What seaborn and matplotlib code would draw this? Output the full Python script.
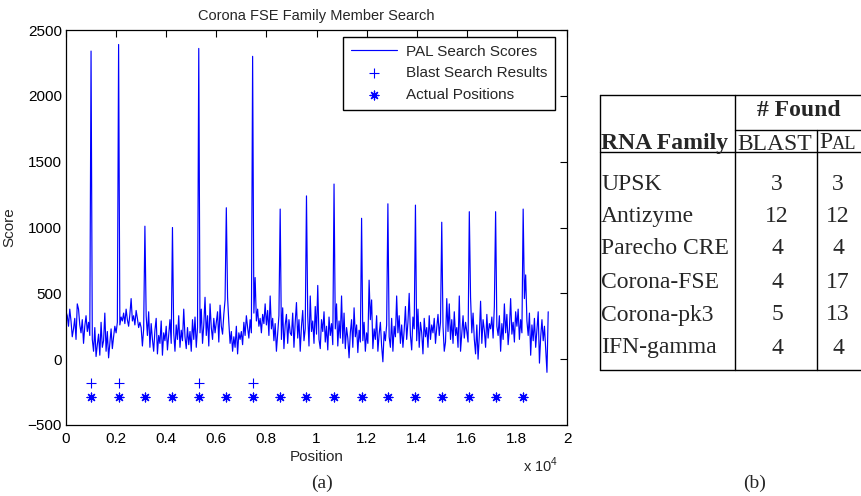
import numpy as np
import pandas as pd
import matplotlib
matplotlib.use('Agg')
from matplotlib import pyplot as plt
from matplotlib.ticker import FuncFormatter
import seaborn as sns

# PAL search scores, one value every 50 positions (0 .. 19250)
scores = [
    360, 330, 250, 380, 290, 170, 230, 310, 150, 420, 380, 260, 200, 300, 120, 250, 330, 210, 280, 180,
    2340, 150, 60, 240, 20, 110, 190, 30, 280, 90, 140, 350, 60, 210, 10, 120, 230, 80, 170, 250,
    200, 280, 2390, 260, 320, 290, 350, 270, 380, 300, 250, 340, 460, 290, 330, 260, 370, 310, 240, 280,
    240, 100, 230, 1010, 330, 180, 360, 90, 270, 150, 60, 220, 310, 40, 180, 120, 290, 30, 200, 140,
    250, 70, 190, 300, 120, 1000, 200, 60, 260, 150, 330, 90, 220, 140, 380, 170, 80, 240, 110, 210,
    60, 300, 150, 320, 90, 240, 2360, 200, 380, 120, 260, 470, 180, 330, 100, 420, 240, 150, 310, 200,
    280, 360, 130, 410, 250, 190, 340, 450, 1150, 470, 280, 120, 210, 60, 170, 90, 250, 40, 200, 150,
    210, 110, 280, 180, 330, 240, 160, 300, 200, 2300, 350, 620, 290, 380, 250, 310, 200, 340, 270, 420,
    260, 370, 180, 480, 230, 310, 140, 270, 60, 200, 330, 1140, 150, 390, 80, 260, 340, 120, 300, 200,
    180, 350, 90, 280, 430, 160, 300, 60, 250, 370, 140, 230, 1240, 330, 100, 480, 210, 290, 120, 400,
    190, 560, 150, 80, 300, 210, 360, 130, 250, 70, 320, 180, 270, 110, 1330, 230, 420, 100, 290, 160,
    480, 120, 350, 80, 240, 160, 10, 200, 300, 90, 390, 170, 260, 50, 220, 130, 1070, 140, 280, 60,
    200, 120, 600, 300, 450, 80, 230, 150, 330, 60, 190, 280, 100, -20, 210, 140, 260, 1180, 170, 90,
    310, 60, 250, 170, 480, 200, 330, 120, 260, 90, 220, 400, 150, 280, 500, 180, 70, 320, 230, 1170,
    140, 380, 90, 280, 200, 40, 310, 170, 240, 90, 330, 150, 260, 200, 310, 120, 240, 340, 180, 280,
    1040, 250, 60, 130, 460, 210, 420, 150, 300, 120, 360, 180, 240, 90, 480, 60, 200, 330, 160, 280,
    210, 130, 1120, 470, 200, 350, 150, 40, 260, 0, 180, 440, 120, 300, 220, 90, 340, 160, 270, 230,
    320, 160, 400, 1120, 250, 180, 330, 60, 270, 150, 420, 200, 340, 110, 230, 460, 190, 280, 130, 360,
    250, 380, 150, 300, 200, 1140, 460, 640, 290, 180, 350, 30, 260, 140, 310, 90, 220, 360, -30, 170,
    300, 140, 250, 80, -100, 360,
]
position = np.arange(0, 50 * len(scores), 50)

blast_pos = [1000, 2100, 5300, 7450]
blast_level = -180
actual_pos = [1000, 2100, 3150, 4250, 5300, 6400, 7450, 8550, 9600, 10700,
              11800, 12850, 13950, 15000, 16100, 17150, 18250]
actual_level = -290

# table (b)
families = ['UPSK', 'Antizyme', 'Parecho CRE', 'Corona-FSE', 'Corona-pk3', 'IFN-gamma']
blast_found = [3, 12, 4, 4, 5, 4]
pal_found = [3, 12, 4, 17, 13, 4]

sns.set_style('white')
plt.rcParams['font.family'] = ['Liberation Sans', 'DejaVu Sans']
plt.rcParams['mathtext.fontset'] = 'custom'
plt.rcParams['mathtext.rm'] = 'Liberation Sans'
blue = '#0000ff'

fig = plt.figure(figsize=(8.61, 4.96), dpi=100)
ax = fig.add_axes([66 / 861, 71 / 496, 501 / 861, 395 / 496])

df = pd.DataFrame({'Position': position, 'Score': scores})
sns.lineplot(data=df, x='Position', y='Score', ax=ax, color=blue, lw=0.85,
             label='PAL Search Scores')
sns.scatterplot(x=blast_pos, y=[blast_level] * len(blast_pos), ax=ax, marker='+',
                s=55, color=blue, linewidth=0.8, label='Blast Search Results')
sns.scatterplot(x=actual_pos, y=[actual_level] * len(actual_pos), ax=ax, marker=(8, 2, 0),
                s=40, color=blue, linewidth=0.9, label='Actual Positions')

ax.set_xlim(0, 20000)
ax.set_ylim(-500, 2500)
ax.set_xticks(np.arange(0, 20001, 2000))
ax.set_yticks(np.arange(-500, 2501, 500))
ax.xaxis.set_major_formatter(FuncFormatter(lambda v, p: f'{v / 1e4:g}'))
ax.tick_params(direction='in', top=True, right=True, length=5, width=0.8,
               labelsize=11, colors='black')
ax.tick_params(axis='x', pad=5)
ax.tick_params(axis='y', pad=3)
for s in ax.spines.values():
    s.set_color('black')
    s.set_linewidth(0.9)

ax.set_xlabel('Position', fontsize=11, labelpad=3)
ax.set_ylabel('Score', fontsize=11, labelpad=8)
ax.set_title('Corona FSE Family Member Search', fontsize=10.5, pad=7)

h, l = ax.get_legend_handles_labels()
leg = ax.legend(h, l, loc='upper right', bbox_to_anchor=((555 - 66) / 501, (425 - 37) / 395),
                borderaxespad=0, fontsize=11, frameon=True, fancybox=False,
                edgecolor='black', framealpha=1, handlelength=3.0, handletextpad=0.6,
                labelspacing=0.5, borderpad=0.5, scatterpoints=1)
leg.get_frame().set_linewidth(1.0)

fig.text(558 / 861, 1 - 465 / 496, r'x 10$^{4}$', ha='right', va='center', fontsize=10.5)
fig.text(322 / 861, 1 - 483 / 496, '(a)', ha='center', va='center', fontsize=14,
         family=['Liberation Serif'])
fig.text(755 / 861, 1 - 483 / 496, '(b)', ha='center', va='center', fontsize=14,
         family=['Liberation Serif'])

# table drawn on a figure-sized overlay in pixel units
tab = fig.add_axes([0, 0, 1, 1], facecolor='none')
tab.set_xlim(0, 861)
tab.set_ylim(496, 0)
tab.axis('off')
lw = 1.0
tab.plot([600, 861], [94.5, 94.5], color='black', lw=lw)
tab.plot([735, 861], [129.5, 129.5], color='black', lw=lw)
tab.plot([600, 861], [152, 152], color='black', lw=lw)
tab.plot([600, 861], [370, 370], color='black', lw=lw)
tab.plot([600, 600], [94.5, 370], color='black', lw=lw)
tab.plot([735, 735], [94.5, 370], color='black', lw=lw)
tab.plot([817, 817], [129.5, 370], color='black', lw=lw)

serif = ['Liberation Serif']
fs = 17
tab.text(799, 111, '# Found', ha='center', va='center', fontsize=fs, weight='bold', family=serif)
tab.text(601, 144, 'RNA Family', ha='left', va='center', fontsize=fs, weight='bold', family=serif)
tab.text(775, 144, 'BLAST', ha='center', va='center', fontsize=fs, family=serif)
p = tab.text(819, 152 - 4, 'P', ha='left', va='baseline', fontsize=fs, family=serif)
tab.annotate('AL', xy=(1, 0), xycoords=p, va='bottom', ha='left', fontsize=fs * 0.78,
             family=serif)
row_y = [184, 216.5, 249, 282, 315, 348]
for y, name, b, pv in zip(row_y, families, blast_found, pal_found):
    tab.text(601, y, name, ha='left', va='center', fontsize=fs, family=serif)
    tab.text(777, y, str(b), ha='center', va='center', fontsize=fs, family=serif)
    tab.text(838, y, str(pv), ha='center', va='center', fontsize=fs, family=serif)

fig.savefig('out.png', dpi=100)
